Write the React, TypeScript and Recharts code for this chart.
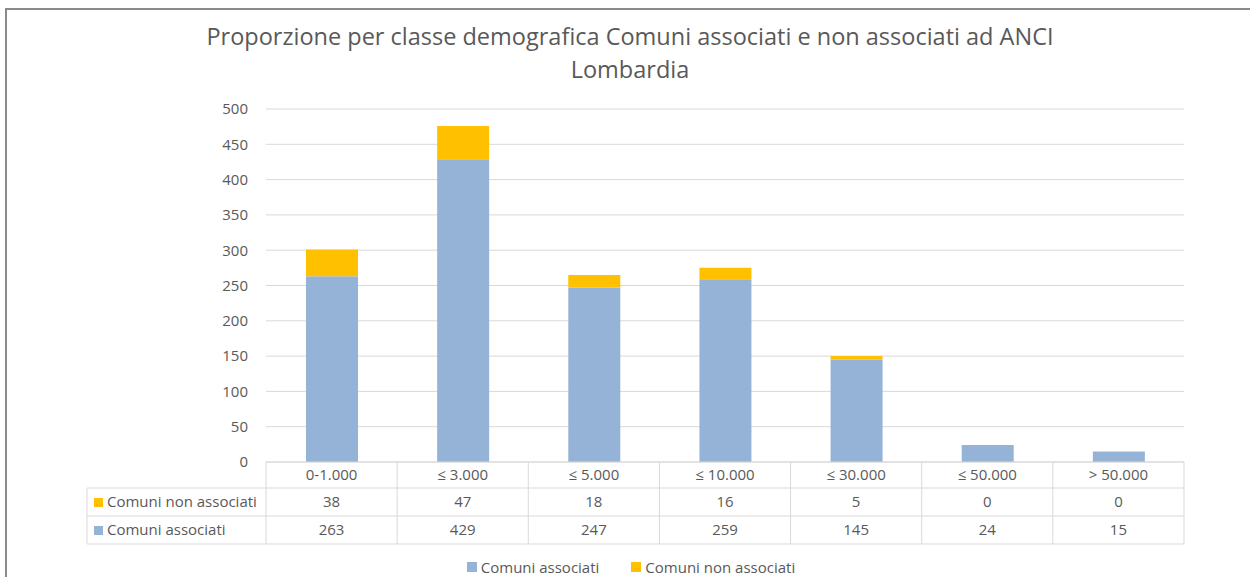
import React from 'react';
import { BarChart, Bar, XAxis, YAxis, CartesianGrid } from 'recharts';

// classi demografiche
const categories = ['0-1.000', '≤ 3.000', '≤ 5.000', '≤ 10.000', '≤ 30.000', '≤ 50.000', '> 50.000'];
const associati = [263, 429, 247, 259, 145, 24, 15];
const nonAssociati = [38, 47, 18, 16, 5, 0, 0];
const yTicks = [0, 50, 100, 150, 200, 250, 300, 350, 400, 450, 500];

const series = [
  { key: 'associati', name: 'Comuni associati', color: '#95B3D7', values: associati },
  { key: 'nonAssociati', name: 'Comuni non associati', color: '#FFC000', values: nonAssociati },
];

const data = categories.map((cat, i) => ({
  cat,
  associati: associati[i],
  nonAssociati: nonAssociati[i],
}));

const FONT = '"Open Sans", sans-serif';
const TEXT = '#595959';
const GRID = '#D9D9D9';
const FS = 15;

// plot area geometry
const PLOT_LEFT = 266;
const PLOT_RIGHT = 1184;
const PLOT_TOP = 109;
const PLOT_BOTTOM = 462;
const COL_W = (PLOT_RIGHT - PLOT_LEFT) / categories.length;
const ROW_H = [26, 28, 28];
const LABEL_LEFT = 87;

// table rows below the axis: non associati first, then associati
const tableRows = [series[1], series[0]];

function TableTick(props: any) {
  const { x, y, payload, index } = props;
  const half = COL_W / 2;
  const r1 = y + ROW_H[0];
  const r2 = r1 + ROW_H[1];
  const r3 = r2 + ROW_H[2];
  const i = payload.index ?? index;
  return (
    <g fontFamily={FONT} fontSize={FS} fill={TEXT}>
      <line x1={x + half} x2={x + half} y1={y} y2={r3} stroke={GRID} />
      <line x1={x - half} x2={x + half} y1={r1} y2={r1} stroke={GRID} />
      <line x1={x - half} x2={x + half} y1={r2} y2={r2} stroke={GRID} />
      <line x1={x - half} x2={x + half} y1={r3} y2={r3} stroke={GRID} />
      <text x={x} y={y + ROW_H[0] / 2 + 5} textAnchor="middle">{payload.value}</text>
      {tableRows.map((s, k) => (
        <text key={s.key} x={x} y={(k === 0 ? r1 : r2) + ROW_H[1] / 2 + 5} textAnchor="middle">
          {s.values[i]}
        </text>
      ))}
      {i === 0 && (
        <g>
          <line x1={x - half} x2={x - half} y1={y} y2={r3} stroke={GRID} />
          <line x1={LABEL_LEFT} x2={LABEL_LEFT} y1={r1} y2={r3} stroke={GRID} />
          <line x1={LABEL_LEFT} x2={x - half} y1={r1} y2={r1} stroke={GRID} />
          <line x1={LABEL_LEFT} x2={x - half} y1={r2} y2={r2} stroke={GRID} />
          <line x1={LABEL_LEFT} x2={x - half} y1={r3} y2={r3} stroke={GRID} />
          {tableRows.map((s, k) => {
            const top = k === 0 ? r1 : r2;
            return (
              <g key={s.key}>
                <rect x={LABEL_LEFT + 7} y={top + ROW_H[1] / 2 - 4} width={9} height={9} fill={s.color} />
                <text x={LABEL_LEFT + 20} y={top + ROW_H[1] / 2 + 5}>{s.name}</text>
              </g>
            );
          })}
        </g>
      )}
    </g>
  );
}

export default function App() {
  return (
    <div style={{ position: 'absolute', left: 0, top: 0, width: 1250, height: 577, overflow: 'hidden', background: '#fff' }}>
      <div
        style={{
          position: 'absolute', left: 5, top: 8, width: 1300, height: 700,
          border: '2px solid #8a8a8a', boxSizing: 'border-box',
        }}
      />
      <div
        style={{
          position: 'absolute', left: 0, top: 20, width: 1260, textAlign: 'center',
          fontFamily: FONT, fontSize: 23.5, color: TEXT, lineHeight: '33px',
        }}
      >
        Proporzione per classe demografica Comuni associati e non associati ad ANCI
        <br />
        Lombardia
      </div>
      <div style={{ position: 'absolute', left: 0, top: 0 }}>
        <BarChart
          width={1250}
          height={577}
          data={data}
          barSize={52}
          margin={{ top: PLOT_TOP, right: 1250 - PLOT_RIGHT, left: PLOT_LEFT - 60, bottom: 577 - PLOT_BOTTOM - 82 }}
        >
          <CartesianGrid vertical={false} stroke={GRID} strokeWidth={1} />
          <YAxis
            width={60}
            domain={[0, 500]}
            ticks={yTicks}
            axisLine={false}
            tickLine={false}
            tickSize={0}
            tickMargin={18}
            tick={{ fontFamily: FONT, fontSize: FS, fill: TEXT }}
          />
          <XAxis
            dataKey="cat"
            height={82}
            axisLine={{ stroke: GRID }}
            tickLine={false}
            tickSize={0}
            tickMargin={0}
            interval={0}
            tick={<TableTick />}
          />
          {series.map((s) => (
            <Bar key={s.key} dataKey={s.key} name={s.name} stackId="a" fill={s.color} isAnimationActive={false} />
          ))}
        </BarChart>
      </div>
      <div
        style={{
          position: 'absolute', left: 0, top: 558, width: 1262, display: 'flex', justifyContent: 'center',
          gap: 32, fontFamily: FONT, fontSize: FS, color: TEXT, lineHeight: '18px',
        }}
      >
        {series.map((s) => (
          <span key={s.key} style={{ display: 'flex', alignItems: 'center' }}>
            <span style={{ display: 'inline-block', width: 10, height: 10, background: s.color, marginRight: 4 }} />
            {s.name}
          </span>
        ))}
      </div>
    </div>
  );
}
